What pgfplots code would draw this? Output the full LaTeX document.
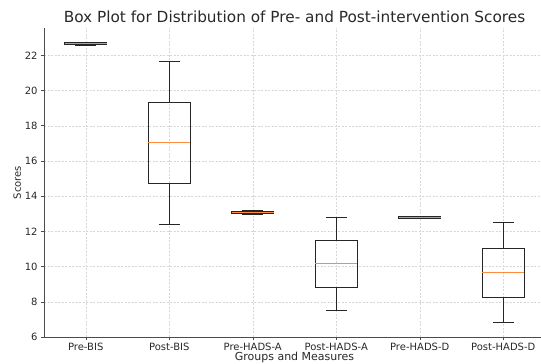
\documentclass[border=0pt]{standalone}
\usepackage{pgfplots}
\pgfplotsset{compat=1.18}
\usepgfplotslibrary{statistics}
\usepackage{fontspec}
\setmainfont{DejaVu Sans}
\definecolor{medorange}{RGB}{255,140,60}
\definecolor{gridgray}{RGB}{215,215,215}
\definecolor{txt}{RGB}{40,40,40}
\pgfplotsset{
  mybox/.style={draw=black!85, line width=0.8pt, solid, mark=none,
    boxplot/every median/.style={draw=medorange, line width=1pt},
    boxplot/every box/.style={draw=black!85, line width=0.8pt},
    boxplot/every whisker/.style={draw=black!85, line width=0.8pt}},
}
\begin{document}
\begin{tikzpicture}
\begin{axis}[
  scale only axis,
  width=501bp, height=309bp,
  xmin=0.5, xmax=6.5,
  ymin=6, ymax=23.55,
  xtick={1,2,3,4,5,6},
  xticklabels={Pre-BIS,Post-BIS,Pre-HADS-A,Post-HADS-A,Pre-HADS-D,Post-HADS-D},
  ytick={6,8,10,12,14,16,18,20,22},
  /pgf/number format/assume math mode=true,
  ticklabel style={font=\fontsize{10bp}{12bp}\selectfont, text=txt},
  tick align=outside,
  tick style={black!70, line width=0.5pt},
  major tick length=3bp,
  axis line style={black!70, line width=0.7pt},
  axis x line*=bottom,
  axis y line*=left,
  grid=major,
  major grid style={gridgray, dash pattern=on 2bp off 1.5bp, line width=0.4pt},
  xlabel={Groups and Measures},
  ylabel={Scores},
  xlabel style={font=\fontsize{11bp}{13bp}\selectfont, text=txt, yshift=6bp},
  ylabel style={font=\fontsize{10bp}{12bp}\selectfont, text=txt, yshift=-3bp},
  title={Box Plot for Distribution of Pre- and Post-intervention Scores},
  title style={font=\fontsize{15.3bp}{17bp}\selectfont, text=txt, yshift=-4bp},
  boxplot/draw direction=y,
  boxplot/box extend=0.5,
  boxplot/whisker extend=0.25,
]
\addplot[mybox, boxplot prepared={draw position=1,
  lower whisker=22.55, lower quartile=22.6, median=22.65, upper quartile=22.72, upper whisker=22.76}] coordinates {};
\addplot[mybox, boxplot prepared={draw position=2,
  lower whisker=12.38, lower quartile=14.73, median=17.02, upper quartile=19.35, upper whisker=21.66}] coordinates {};
\addplot[mybox, boxplot prepared={draw position=3,
  lower whisker=12.99, lower quartile=13.03, median=13.08, upper quartile=13.13, upper whisker=13.17}] coordinates {};
\addplot[mybox, boxplot prepared={draw position=4,
  lower whisker=7.49, lower quartile=8.82, median=10.15, upper quartile=11.47, upper whisker=12.8}] coordinates {};
\addplot[mybox, boxplot prepared={draw position=5,
  lower whisker=12.72, lower quartile=12.76, median=12.8, upper quartile=12.84, upper whisker=12.87}] coordinates {};
\addplot[mybox, boxplot prepared={draw position=6,
  lower whisker=6.81, lower quartile=8.23, median=9.65, upper quartile=11.06, upper whisker=12.5}] coordinates {};
\coordinate (O) at (rel axis cs:0,0);
\end{axis}
\pgfresetboundingbox
\path[use as bounding box] ([xshift=-44bp,yshift=-27bp]O) rectangle ([xshift=497bp,yshift=337bp]O);
\end{tikzpicture}
\end{document}
